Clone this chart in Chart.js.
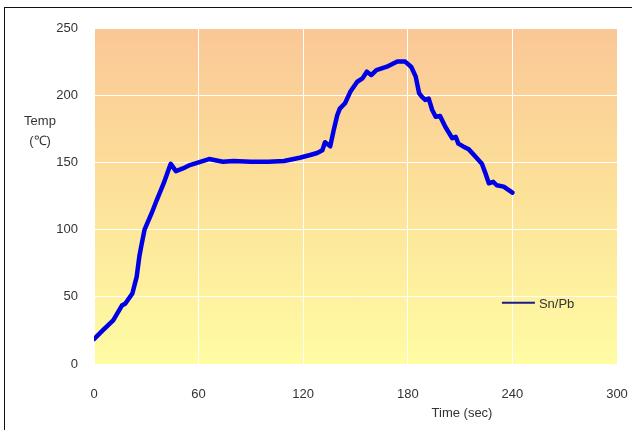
<!DOCTYPE html>
<html>
<head>
<meta charset="utf-8">
<script src="https://cdn.jsdelivr.net/npm/chart.js@4/dist/chart.umd.min.js"></script>
<style>
  html, body { margin: 0; padding: 0; background: #fff; }
  #wrap { position: relative; width: 632px; height: 430px; overflow: hidden; }
  #frame { position: absolute; left: 4px; top: 7px; right: -2px; bottom: -2px; border-top: 1px solid #111; border-left: 1px solid #111; pointer-events: none; }
  canvas { position: absolute; left: 0; top: 0; }
</style>
</head>
<body>
<div id="wrap">
  <canvas id="chart" width="632" height="430"></canvas>
  <div id="frame"></div>
</div>
<script>
// ===== data =====
const timeSec = [0, 5, 11, 16, 18, 22, 24.5, 26, 27, 29,
  33, 36, 40, 44, 47, 51, 55, 60, 66, 74,
  80, 90, 100, 109, 118, 124, 128, 131, 132.5, 135.5,
  137.5, 139.5, 141, 144, 147, 151, 154, 156.5, 159, 162,
  168, 174, 178.5, 182, 184.5, 186.5, 188, 190, 192, 194,
  196, 198.5, 201.5, 205.5, 207.5, 209, 212, 215, 219, 222.5,
  224.5, 226.5, 229, 231, 235, 240];
const tempSnPb = [18.5, 25, 32.5, 43.5, 45, 52.5, 65, 80, 87, 100,
  112, 122, 134.5, 149, 143.5, 145.5, 148, 150, 152.5, 150.5,
  151, 150.5, 150.5, 151, 153.5, 155.5, 157, 159, 165, 162,
  174, 185, 190, 194, 202.5, 210, 212.5, 217.5, 215, 218.7,
  221.2, 225, 225, 221, 214, 201.5, 199, 196.5, 197.5, 189,
  184, 184.5, 176.5, 168, 169, 164, 161.7, 159.7, 154, 149,
  142, 134.5, 135.5, 133, 132, 127.5];
const xTicks = [0, 60, 120, 180, 240, 300];
const yTicks = [0, 50, 100, 150, 200, 250];
const seriesName = "Sn/Pb";
const yTitle = ["Temp", "(℃)"];
const xTitle = "Time (sec)";

const FONT = "'Liberation Sans', Arial, sans-serif";
const TEXT = "#333";

// ===== plot background gradient + custom titles/legend =====
const decor = {
  id: "decor",
  beforeDraw(chart){
    const { ctx, chartArea: a } = chart;
    const g = ctx.createLinearGradient(0, a.top, 0, a.bottom);
    g.addColorStop(0, "#fac797");
    g.addColorStop(0.45, "#fcdf98");
    g.addColorStop(1, "#fffca4");
    ctx.save();
    ctx.fillStyle = g;
    ctx.fillRect(a.left, a.top, a.right - a.left, a.bottom - a.top);
    ctx.restore();
  },
  afterDraw(chart){
    const { ctx, chartArea: a } = chart;
    ctx.save();
    ctx.fillStyle = TEXT;
    ctx.font = "13px " + FONT;
    ctx.textAlign = "center";
    ctx.textBaseline = "middle";
    ctx.fillText(yTitle[0], 40, 121);
    ctx.fillText(yTitle[1], 40, 141);
    ctx.fillText(xTitle, 462, 413);
    // legend inside plot
    const lx = a.left + (a.right - a.left) * 0.78;
    const ly = a.top + (a.bottom - a.top) * 0.818;
    ctx.strokeStyle = "#1a1a8c";
    ctx.lineWidth = 2;
    ctx.beginPath();
    ctx.moveTo(lx, ly);
    ctx.lineTo(lx + 33, ly);
    ctx.stroke();
    ctx.textAlign = "left";
    ctx.fillText(seriesName, lx + 37, ly + 2);
    ctx.restore();
  }
};

new Chart(document.getElementById("chart"), {
  type: "line",
  data: {
    datasets: [{
      label: seriesName,
      data: timeSec.map((t, i) => ({ x: t, y: tempSnPb[i] })),
      borderColor: "#0000e6",
      borderWidth: 4.5,
      borderJoinStyle: "round",
      borderCapStyle: "round",
      pointRadius: 0,
      tension: 0,
      fill: false
    }]
  },
  options: {
    responsive: false,
    animation: false,
    layout: { padding: { top: 28, right: 15, bottom: 0, left: 0 } },
    plugins: { legend: { display: false }, tooltip: { enabled: false } },
    scales: {
      x: {
        type: "linear", min: 0, max: 300,
        afterBuildTicks: s => { s.ticks = xTicks.map(v => ({ value: v })); },
        afterFit: s => { s.height = 66; s.paddingLeft = 0; s.paddingRight = 0; },
        border: { display: false },
        grid: { color: "#ffffff", lineWidth: 1, drawTicks: false },
        ticks: { color: TEXT, font: { family: FONT, size: 13 }, padding: 23, maxRotation: 0 }
      },
      y: {
        min: 0, max: 250,
        afterBuildTicks: s => { s.ticks = yTicks.map(v => ({ value: v })); },
        afterFit: s => { s.width = 94; s.paddingTop = 0; s.paddingBottom = 0; },
        border: { display: false },
        grid: { color: "#ffffff", lineWidth: 1, drawTicks: false },
        ticks: { color: TEXT, font: { family: FONT, size: 13 }, padding: 16 }
      }
    }
  },
  plugins: [decor]
});
</script>
</body>
</html>
